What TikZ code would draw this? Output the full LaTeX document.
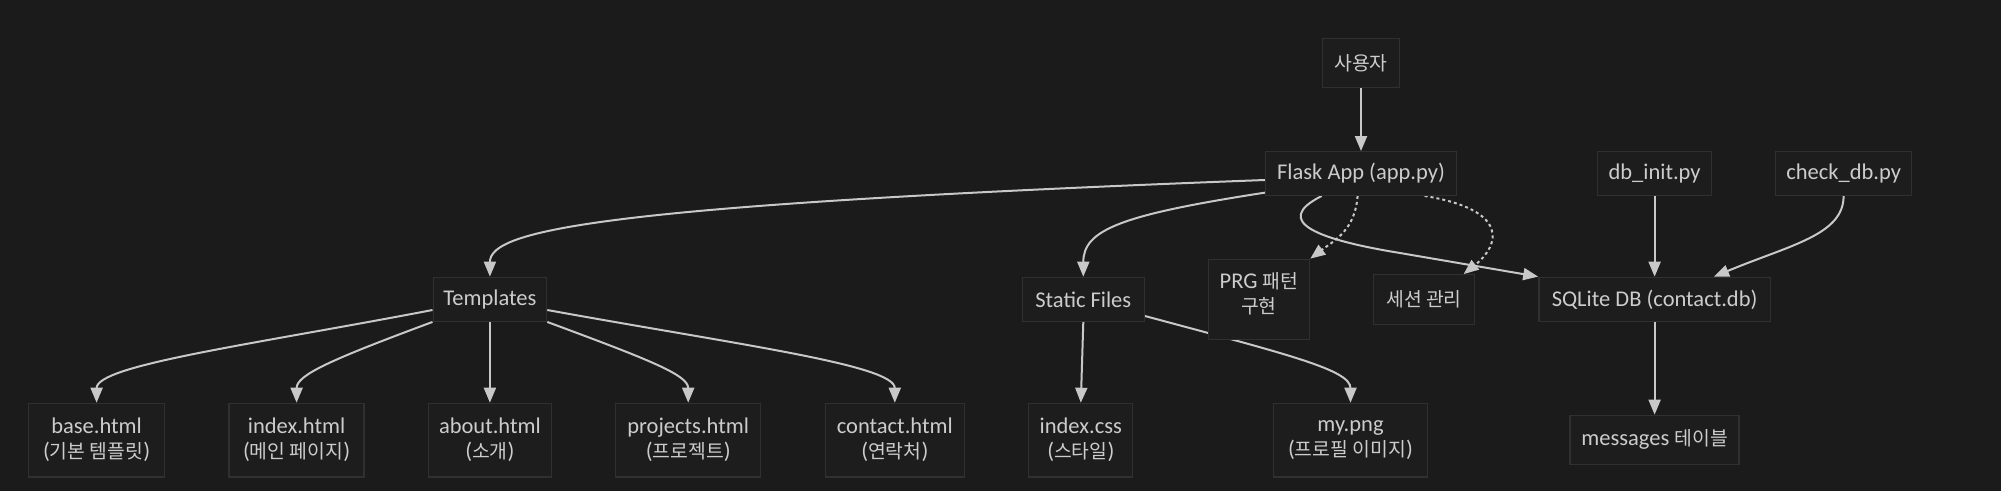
\documentclass[tikz,border=0pt]{standalone}
\usepackage{fontspec}
\setmainfont{Carlito}
\newfontfamily\krfont{Noto Sans CJK KR}[Scale=0.86]
\newcommand{\kor}[1]{{\krfont #1}}
\usetikzlibrary{arrows.meta}
\definecolor{bgc}{HTML}{1B1B1B}
\definecolor{nodefill}{HTML}{1D1D1D}
\definecolor{nodeborder}{HTML}{303030}
\definecolor{txt}{HTML}{CCCCCC}
\definecolor{edgec}{HTML}{C8C8C8}
\pgfdeclarelayer{back}
\pgfdeclarelayer{edges}
\pgfsetlayers{back,edges,main}
\begin{document}
\begin{tikzpicture}[x=1pt,y=-1pt,
  box/.style={draw=nodeborder, line width=1.3pt, fill=nodefill, text=txt, inner sep=0pt, align=center, font=\fontsize{22.5}{25}\selectfont},
  leaf/.style={box, minimum height=73.7pt},
  link/.style={draw=edgec, line width=2pt, -{Triangle[length=15pt,width=12pt]}},
  dottedlink/.style={link, dash pattern=on 3pt off 3pt},
]
\useasboundingbox (0,0) rectangle (2001,491);
\begin{pgfonlayer}{back}
\fill[bgc] (0,0) rectangle (2001,491);
\end{pgfonlayer}

\node[box, minimum width=77pt, minimum height=49pt] (user) at (1361,62.8) {\kor{사용자}};
\node[box, minimum width=191pt, minimum height=43.6pt] (flask) at (1361,173.5) {Flask App (app.py)};
\node[box, minimum width=114pt, minimum height=43.6pt] (dbinit) at (1654.6,173.5) {db\_init.py};
\node[box, minimum width=136pt, minimum height=43.6pt] (checkdb) at (1843.6,173.5) {check\_db.py};
\node[box, minimum width=113.5pt, minimum height=44pt] (templates) at (489.9,299.3) {Templates};
\node[box, minimum width=122pt, minimum height=44pt] (static) at (1083.3,299.3) {Static Files};
\node[box, minimum width=101.5pt, minimum height=80pt] (prg) at (1258.9,299.3) {PRG \kor{패턴}\\\kor{구현}\rule[-12pt]{0pt}{12pt}};
\node[box, minimum width=101pt, minimum height=49.6pt] (session) at (1424,299.5) {\kor{세션 관리}};
\node[box, minimum width=231.5pt, minimum height=44.4pt] (sqlite) at (1654.6,299.5) {SQLite DB (contact.db)};

\node[leaf, minimum width=136pt] (base) at (96.6,440.2) {base.html\\(\kor{기본 템플릿})};
\node[leaf, minimum width=135pt] (index) at (296.6,440.2) {index.html\\(\kor{메인 페이지})};
\node[leaf, minimum width=122.5pt] (about) at (489.9,440.2) {about.html\\(\kor{소개})};
\node[leaf, minimum width=145pt] (projects) at (688.2,440.2) {projects.html\\(\kor{프로젝트})};
\node[leaf, minimum width=139pt] (contact) at (894.8,440.2) {contact.html\\(\kor{연락처})};
\node[leaf, minimum width=104pt] (css) at (1080.8,440.2) {index.css\\(\kor{스타일})};
\node[leaf, minimum width=154.5pt] (mypng) at (1350.5,440.2) {my.png\\(\kor{프로필 이미지})};
\node[box, minimum width=169pt, minimum height=49pt] (messages) at (1654.6,439.8) {messages \kor{테이블}};

\begin{pgfonlayer}{edges}
\draw[link] (user) -- (flask);
\draw[link] ([yshift=-6.5pt]flask.west) .. controls (600,205) and (489.9,230) .. (templates.north);
\draw[link] ([yshift=3.3pt]flask.south west) .. controls (1120,215) and (1083.3,230) .. (static.north);
\draw[dottedlink] ([xshift=-3.4pt]flask.south) .. controls (1355,230) and (1335,240) .. (prg.north east);
\draw[dottedlink] ([xshift=63.6pt]flask.south) .. controls (1510,210) and (1500,245) .. ([xshift=-11.5pt]session.north east);
\draw[link] ([xshift=-39.3pt]flask.south) .. controls (1270,222) and (1320,240) .. (1400,253) -- (sqlite.north west);
\draw[link] (dbinit) -- (sqlite);
\draw[link] (checkdb.south) .. controls (1843.6,235) and (1790,245) .. ([xshift=59.4pt]sqlite.north);
\draw[link] ([yshift=-10.7pt]templates.west) .. controls (250,345) and (96.6,365) .. (base.north);
\draw[link] (templates.south west) .. controls (330,360) and (296.6,375) .. (index.north);
\draw[link] (templates) -- (about);
\draw[link] (templates.south east) .. controls (650,360) and (688.2,375) .. (projects.north);
\draw[link] ([yshift=-10.7pt]templates.east) .. controls (740,345) and (894.8,365) .. (contact.north);
\draw[link] (static.south) -- (css.north);
\draw[link] ([yshift=-16.7pt]static.east) .. controls (1290,355) and (1350.5,370) .. (mypng.north);
\draw[link] (sqlite) -- (messages);
\end{pgfonlayer}
\end{tikzpicture}
\end{document}
